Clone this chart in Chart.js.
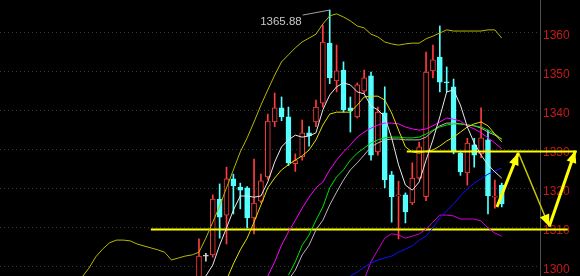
<!DOCTYPE html>
<html>
<head>
<meta charset="utf-8">
<script src="https://cdn.jsdelivr.net/npm/chart.js@4.4.1/dist/chart.umd.min.js"></script>
<style>
  html, body { margin: 0; padding: 0; background: #000; overflow: hidden; }
  canvas { display: block; background: #000; }
</style>
</head>
<body>
<canvas id="kline" width="580" height="276"></canvas>
<script>
// candles, left to right (slot 0 is the first candle inside the view)
const opens  = [1296, 1302.8, 1303.1, 1317.4, 1313.3, 1322.6, 1320.5, 1320.3, 1312.6, 1316.9,
                1323.1, 1337.2, 1340.8, 1338.5, 1326.5, 1328.2, 1334.4, 1337.2, 1342, 1357.4,
                1347.7, 1350.5, 1340.8, 1338.5, 1345.1, 1349, 1329.5, 1339.5, 1323.6, 1318.2,
                1318.5, 1316.4, 1322.8, 1318, 1350.3, 1353.8, 1347.4, 1346.2, 1329.2, 1324.1,
                1331.3, 1329, 1332.6, 1317.9, 1321];
const highs  = [1307.2, 1303.5, 1318.5, 1321.3, 1325.6, 1323.8, 1321.5, 1320.6, 1327.7, 1323.8,
                1339.2, 1344.6, 1343.6, 1341, 1329, 1337.7, 1336, 1342.8, 1362, 1365.88,
                1356.9, 1352.6, 1343.6, 1347.2, 1350.5, 1350, 1341, 1346.2, 1324.5, 1322,
                1319, 1326.7, 1332, 1355.1, 1356.9, 1361.8, 1351.3, 1348.2, 1329.5, 1333,
                1333, 1340.8, 1335.1, 1322.3, 1321.5];
const lows   = [1294, 1301.5, 1302.5, 1307.4, 1305.9, 1313.6, 1314.9, 1310, 1308.5, 1316.5,
                1322.5, 1336, 1337.5, 1326, 1324.5, 1327.4, 1331, 1336, 1341, 1347,
                1344.9, 1339.7, 1334.6, 1338.2, 1344.5, 1327.4, 1328.7, 1320.3, 1311.5, 1307.2,
                1311.3, 1316, 1322.5, 1317, 1348.5, 1344.9, 1344.9, 1329, 1323.5, 1321,
                1325.6, 1328, 1313.6, 1315.1, 1315.4];
const closes = [1302.8, 1302.8, 1317.4, 1312.8, 1322.6, 1320.8, 1319.7, 1312.6, 1316.4, 1322.1,
                1337.4, 1340.8, 1338.5, 1326.7, 1327.3, 1334.4, 1333.6, 1341, 1357.7, 1348.5,
                1350.3, 1340.3, 1340, 1346.7, 1348.5, 1328.7, 1339.7, 1322.3, 1318, 1318.5,
                1314.1, 1322.8, 1330.8, 1350, 1353.1, 1347.4, 1347.2, 1329.5, 1324.4, 1331.8,
                1328.7, 1333.1, 1318.2, 1318.2, 1316.2];

// overlay lines, each with the slot of its first value
const upperStart = -17;
const upperBand = [1297.4, 1299.7, 1302.6, 1304.6, 1306.2, 1306.9, 1306.9, 1306.7, 1305.9, 1305.4,
                   1304.9, 1304.4, 1303.8, 1301.8, 1302.3, 1302.8, 1303.1, 1303.8, 1307.4, 1311.5,
                   1315.6, 1320.3, 1324.9, 1329.5, 1333.1, 1337.2, 1341.5, 1345.4, 1349.2, 1352.6,
                   1354.4, 1356.2, 1357.7, 1358.7, 1359.7, 1362.3, 1364.4, 1364.9, 1364.1, 1363.1,
                   1361.8, 1361.3, 1359.7, 1359, 1357.7, 1357.2, 1356.9, 1357.2, 1357.4, 1357.4,
                   1358.5, 1359.2, 1360, 1360.8, 1360.5, 1360.5, 1360.5, 1360.5, 1360.5, 1360.8,
                   1360.8, 1358.7];
const ma5Start = 1;
const ma5 = [1297.7, 1300.5, 1305.6, 1310, 1314.6, 1318.2, 1318.2, 1317.9, 1318.2, 1321.8,
             1326.9, 1330.8, 1332.6, 1333.8, 1333.3, 1333.6, 1334.4, 1340.3, 1344.1, 1346.2,
             1347.2, 1346.7, 1344.9, 1344.4, 1341.3, 1340.3, 1338.5, 1333.1, 1326.2, 1321,
             1319.7, 1321.8, 1327.4, 1332.6, 1338.5, 1344.9, 1345.4, 1341.5, 1335.9, 1331.8,
             1328.7, 1326.2, 1324.4, 1322.8];
const ma10Start = 4;
const ma10 = [1296.7, 1300.8, 1304.4, 1307.4, 1311.5, 1315.9, 1320.3, 1322.8, 1324.9, 1326.2,
              1327.4, 1328.5, 1330, 1332.6, 1336.4, 1339.2, 1339.7, 1339.7, 1339.7, 1341.5,
              1343.6, 1343.8, 1343.8, 1342.8, 1339.5, 1335.1, 1330.8, 1329.5, 1329.2, 1329.7,
              1330, 1331, 1332.3, 1333.3, 1334.6, 1335.9, 1336.7, 1337.2, 1336.2, 1334.1,
              1332.1];
const ma20Start = 10;
const ma20 = [1297.7, 1301.3, 1305.6, 1309, 1312, 1315.1, 1317.9, 1320.3, 1321.8, 1324.9,
              1327.4, 1329.5, 1331.3, 1333.3, 1334.6, 1335.6, 1336.4, 1336.9, 1336.9, 1336.7,
              1335.9, 1335.4, 1335.1, 1335.4, 1336.2, 1337.2, 1338.2, 1337.9, 1337.4, 1336.2,
              1335.4, 1334.4, 1333.1, 1331.8, 1330.3];
const ma30Start = 13;
const ma30 = [1297.9, 1301.3, 1305.6, 1308.2, 1312, 1315.4, 1320.3, 1323.1, 1324.9, 1327.4,
              1329.2, 1330.5, 1331.8, 1332.6, 1333.1, 1333.3, 1333.3, 1333.1, 1333.1, 1333.3,
              1334.1, 1335.1, 1335.9, 1336.4, 1336.7, 1336.7, 1336.4, 1336.2, 1335.9, 1335.1,
              1334.1, 1332.8];
const ma40Start = 13;
const ma40 = [1296.7, 1299.2, 1303.1, 1305.6, 1309.5, 1312, 1315.9, 1319.2, 1322.3, 1324.9,
              1326.7, 1328.7, 1330.8, 1331.8, 1332.6, 1332.8, 1332.8, 1332.6, 1332.6, 1332.6,
              1333.3, 1334.9, 1336.2, 1336.9, 1336.9, 1336.7, 1336.4, 1336.2, 1335.6, 1334.6,
              1333.8, 1332.8];
const ma60Start = 22;
const ma60 = [1297.7, 1298.7, 1300, 1301, 1301.8, 1302.3, 1302.8, 1303.8, 1304.6, 1305.4,
              1306.9, 1307.9, 1310, 1312.6, 1314.4, 1316.2, 1318.2, 1320, 1321.5, 1322.6,
              1323.8, 1324.6, 1325.4];
const lowerStart = 24;
const lowerBand = [1296.7, 1301.3, 1304.4, 1307.4, 1308.5, 1308.2, 1307.4, 1307.9, 1308.5, 1309.7,
                   1311.5, 1313.3, 1313.3, 1313.1, 1312.3, 1312.3, 1312.3, 1311.8, 1310, 1308.7,
                   1307.9];

// price axis
const yTicks = [1300, 1310, 1320, 1330, 1340, 1350, 1360, 1370];

// drawn levels and arrows: [slot, price]
const supportLine = [[-7, 1309.6], [53.6, 1309.6]];
const resistLine = [[30.2, 1329.6], [54.9, 1329.6]];
const arrowUp1 = [[43.3, 1315.4], [46.4, 1329.2]];
const arrowDown = [[46.4, 1329.4], [50.9, 1310.4]];
const arrowUp2 = [[50.9, 1310.4], [54.7, 1329.8]];
const highLabel = '1365.88';
const highSlot = 19;

const UP = '#ff3c3c', DOWN = '#54ffff', FLAT = '#d0d0d0';

function candleColor(i) {
  if (closes[i] === opens[i]) return FLAT;
  return closes[i] > opens[i] ? UP : DOWN;
}

function series(values, start) {
  return values.map((v, k) => ({x: start + k, y: v}));
}

function toPts(arr) {
  return arr.map(p => ({x: p[0], y: p[1]}));
}

const wickData = highs.map((h, i) => ({x: i, y: [lows[i], h]}));
const bodyData = opens.map((o, i) => ({x: i, y: [o, closes[i]]}));

function lineDs(data, color, width, extra) {
  return Object.assign({
    type: 'line', data: data, borderColor: color, borderWidth: width,
    pointRadius: 0, tension: 0, order: 0, fill: false
  }, extra || {});
}

// arrowheads + high label
const marksPlugin = {
  id: 'marks',
  afterDatasetsDraw(chart) {
    const ctx = chart.ctx;
    const xs = chart.scales.x, ys = chart.scales.y;
    const px = p => [xs.getPixelForValue(p[0]), ys.getPixelForValue(p[1])];

    function head(from, to, len, wid, color) {
      const a = px(from), b = px(to);
      const ang = Math.atan2(b[1] - a[1], b[0] - a[0]);
      ctx.save();
      ctx.fillStyle = color;
      ctx.translate(b[0], b[1]);
      ctx.rotate(ang);
      ctx.beginPath();
      ctx.moveTo(0, 0);
      ctx.lineTo(-len, -wid / 2);
      ctx.lineTo(-len, wid / 2);
      ctx.closePath();
      ctx.fill();
      ctx.restore();
    }
    head(arrowUp1[0], arrowUp1[1], 12, 10, '#ffff00');
    head(arrowDown[0], arrowDown[1], 12, 10, '#ffff00');
    head(arrowUp2[0], arrowUp2[1], 12, 10, '#ffff00');

    // label for the highest price
    const hx = xs.getPixelForValue(highSlot);
    const hy = ys.getPixelForValue(highs[highSlot]);
    ctx.save();
    ctx.strokeStyle = '#a0a0a0';
    ctx.lineWidth = 1;
    ctx.beginPath();
    ctx.moveTo(hx - 27, hy + 5);
    ctx.lineTo(hx, hy);
    ctx.stroke();
    ctx.fillStyle = '#c8c8c8';
    ctx.font = '11.5px "Liberation Sans", Arial, sans-serif';
    ctx.textAlign = 'right';
    ctx.textBaseline = 'middle';
    ctx.fillText(highLabel, hx - 28, hy + 12);
    ctx.restore();
  }
};

new Chart(document.getElementById('kline'), {
  type: 'bar',
  data: {
    datasets: [
      lineDs(series(ma5, ma5Start), '#e8e8e8', 1),
      lineDs(series(ma10, ma10Start), '#e0e000', 1),
      lineDs(series(ma20, ma20Start), '#ff00ff', 1),
      lineDs(series(ma30, ma30Start), '#00e000', 1),
      lineDs(series(ma40, ma40Start), '#b8b8b8', 1),
      lineDs(series(ma60, ma60Start), '#1010ff', 1),
      lineDs(series(lowerBand, lowerStart), '#d000d0', 1),
      lineDs(series(upperBand, upperStart), '#b8b800', 1),
      lineDs(toPts(supportLine), '#ffff00', 2, {clip: false}),
      lineDs(toPts(resistLine), '#ffff00', 2, {clip: false}),
      lineDs(toPts(arrowUp1), '#ffff00', 3, {clip: false}),
      lineDs(toPts(arrowDown), '#c8c800', 1.5, {clip: false}),
      lineDs(toPts(arrowUp2), '#ffff00', 3, {clip: false}),
      {
        type: 'bar', data: bodyData, order: 1, grouped: false,
        barThickness: 5, minBarLength: 1, borderWidth: 1, borderSkipped: false,
        borderColor: opens.map((o, i) => candleColor(i)),
        backgroundColor: opens.map((o, i) => candleColor(i) === UP ? '#000' : candleColor(i))
      },
      {
        type: 'bar', data: wickData, order: 2, grouped: false,
        barThickness: 1, borderWidth: 0,
        backgroundColor: highs.map((h, i) => candleColor(i))
      }
    ]
  },
  options: {
    responsive: false,
    animation: false,
    devicePixelRatio: 1,
    layout: { padding: 0 },
    plugins: { legend: { display: false }, tooltip: { enabled: false } },
    scales: {
      x: {
        type: 'linear', min: -28.92, max: 49.56, display: false, offset: false
      },
      y: {
        position: 'right', min: 1297.69, max: 1368.46,
        afterFit: s => { s.width = 40; s.paddingTop = 0; s.paddingBottom = 0; },
        afterBuildTicks: s => { s.ticks = yTicks.map(v => ({value: v})); },
        grid: { color: '#3a3a3a', drawTicks: false },
        border: { color: '#505050', dash: [1, 3] },
        ticks: {
          color: '#c41a1a', padding: 3, labelOffset: 3,
          font: { family: '"Liberation Sans", Arial, sans-serif', size: 12 },
          callback: v => String(v)
        }
      }
    }
  },
  plugins: [marksPlugin]
});
</script>
</body>
</html>
